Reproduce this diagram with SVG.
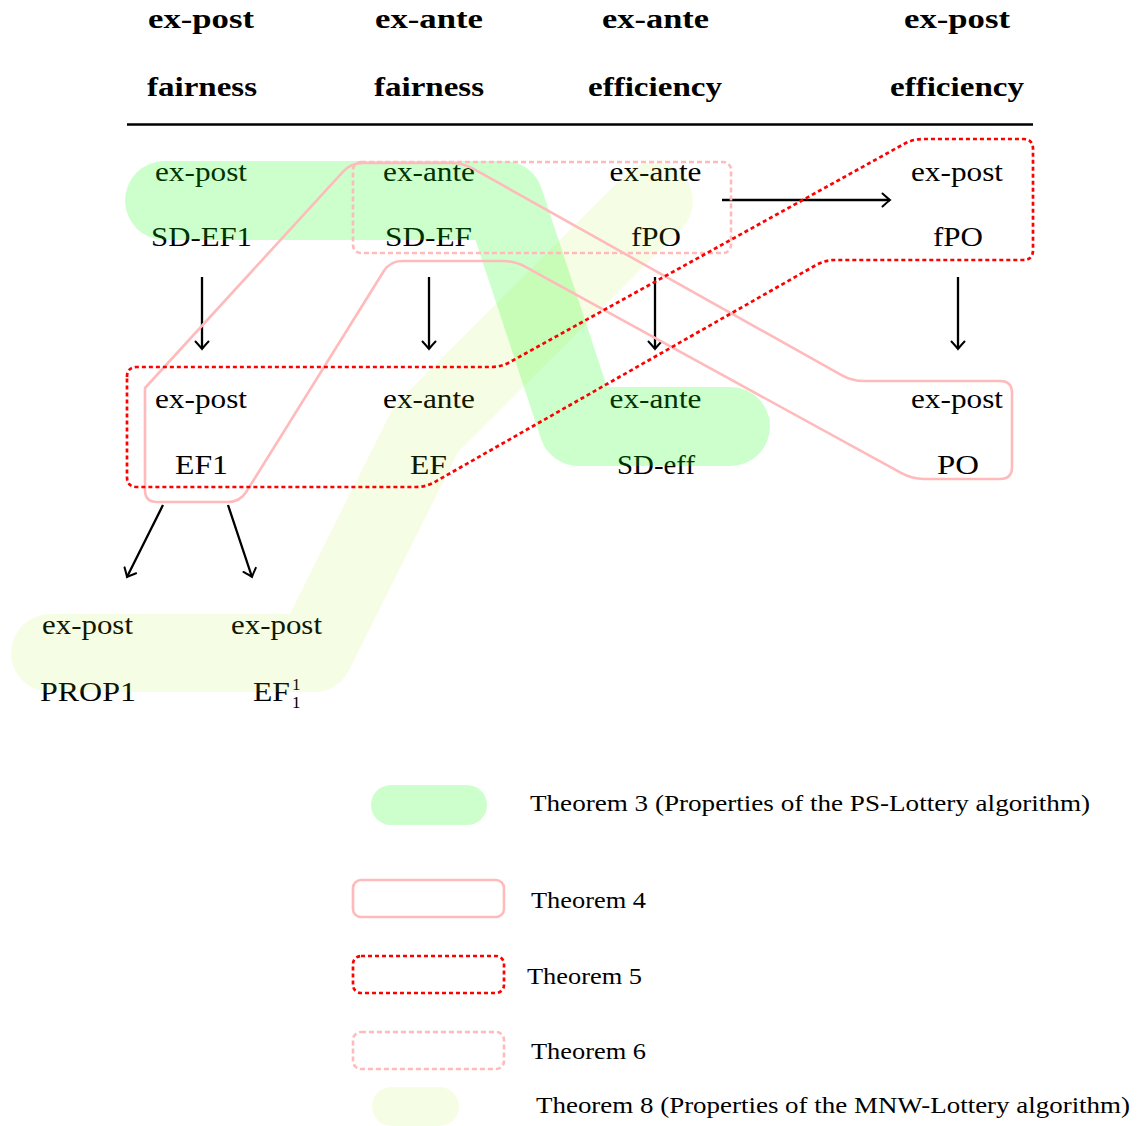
<svg xmlns="http://www.w3.org/2000/svg" width="1137" height="1126" viewBox="0 0 1137 1126">
<defs>
<style>
.hd{font-family:"Liberation Serif",serif;font-weight:bold;font-size:28px;fill:#000;text-anchor:middle}
.lb{font-family:"Liberation Serif",serif;font-size:28px;fill:#000;text-anchor:middle}
.lg{font-family:"Liberation Serif",serif;font-size:23px;fill:#000}
.sm{font-family:"Liberation Serif",serif;font-size:17px;fill:#000}
.edge{stroke:#000;stroke-width:2.3;fill:none;marker-end:url(#arr)}
.t3{fill:none;stroke:#00ff00;stroke-opacity:0.2;stroke-linecap:round;stroke-linejoin:round}
.t8{fill:none;stroke:rgb(170,232,0);stroke-opacity:0.1;stroke-linecap:round;stroke-linejoin:round}
.t4{fill:none;stroke:#ffbbbb;stroke-width:2.6}
.t5{fill:none;stroke:#ff0000;stroke-width:2.7;stroke-dasharray:4 3}
.t6{fill:none;stroke:#ffbbbb;stroke-width:2.6;stroke-dasharray:5 3}
</style>
<marker id="arr" viewBox="-10 -8 12 16" refX="0" refY="0" markerWidth="12" markerHeight="16" orient="auto" markerUnits="userSpaceOnUse">
<path d="M -7.5 -6.5 Q -2 -1.5 0 0 Q -2 1.5 -7.5 6.5" fill="none" stroke="#000" stroke-width="2" stroke-linecap="round"/>
</marker>
</defs>
<rect width="1137" height="1126" fill="#fff"/>

<g id="header">
<text class="hd" x="201" y="28" textLength="106" lengthAdjust="spacingAndGlyphs">ex-post</text>
<text class="hd" x="202" y="96" textLength="110" lengthAdjust="spacingAndGlyphs">fairness</text>
<text class="hd" x="429" y="28" textLength="108" lengthAdjust="spacingAndGlyphs">ex-ante</text>
<text class="hd" x="429" y="96" textLength="110" lengthAdjust="spacingAndGlyphs">fairness</text>
<text class="hd" x="655.5" y="28" textLength="107" lengthAdjust="spacingAndGlyphs">ex-ante</text>
<text class="hd" x="655" y="96" textLength="134" lengthAdjust="spacingAndGlyphs">efficiency</text>
<text class="hd" x="957" y="28" textLength="106" lengthAdjust="spacingAndGlyphs">ex-post</text>
<text class="hd" x="957" y="96" textLength="134" lengthAdjust="spacingAndGlyphs">efficiency</text>
<line x1="127" y1="124.5" x2="1033" y2="124.5" stroke="#000" stroke-width="2.4"/>
</g>

<g id="n-sdef1">
<text class="lb" x="201" y="181" textLength="92" lengthAdjust="spacingAndGlyphs">ex-post</text>
<text class="lb" x="201.5" y="246" textLength="101" lengthAdjust="spacingAndGlyphs">SD-EF1</text>
</g>
<g id="n-sdef">
<text class="lb" x="429" y="181" textLength="92" lengthAdjust="spacingAndGlyphs">ex-ante</text>
<text class="lb" x="428.5" y="246" textLength="87" lengthAdjust="spacingAndGlyphs">SD-EF</text>
</g>
<g id="n-fpo-ante">
<text class="lb" x="655.5" y="181" textLength="92" lengthAdjust="spacingAndGlyphs">ex-ante</text>
<text class="lb" x="656" y="246" textLength="50" lengthAdjust="spacingAndGlyphs">fPO</text>
</g>
<g id="n-fpo-post">
<text class="lb" x="957" y="181" textLength="92" lengthAdjust="spacingAndGlyphs">ex-post</text>
<text class="lb" x="958" y="246" textLength="50" lengthAdjust="spacingAndGlyphs">fPO</text>
</g>
<g id="n-ef1">
<text class="lb" x="201" y="408" textLength="92" lengthAdjust="spacingAndGlyphs">ex-post</text>
<text class="lb" x="201.5" y="474" textLength="53" lengthAdjust="spacingAndGlyphs">EF1</text>
</g>
<g id="n-ef">
<text class="lb" x="429" y="408" textLength="92" lengthAdjust="spacingAndGlyphs">ex-ante</text>
<text class="lb" x="428.5" y="474" textLength="37" lengthAdjust="spacingAndGlyphs">EF</text>
</g>
<g id="n-sdeff">
<text class="lb" x="655.5" y="408" textLength="92" lengthAdjust="spacingAndGlyphs">ex-ante</text>
<text class="lb" x="656" y="474" textLength="78" lengthAdjust="spacingAndGlyphs">SD-eff</text>
</g>
<g id="n-po">
<text class="lb" x="957" y="408" textLength="92" lengthAdjust="spacingAndGlyphs">ex-post</text>
<text class="lb" x="958" y="474" textLength="42" lengthAdjust="spacingAndGlyphs">PO</text>
</g>
<g id="n-prop1">
<text class="lb" x="87.5" y="634" textLength="91" lengthAdjust="spacingAndGlyphs">ex-post</text>
<text class="lb" x="88" y="701" textLength="96" lengthAdjust="spacingAndGlyphs">PROP1</text>
</g>
<g id="n-ef11">
<text class="lb" x="276.5" y="634" textLength="91" lengthAdjust="spacingAndGlyphs">ex-post</text>
<text class="lb" x="271.5" y="701" textLength="37" lengthAdjust="spacingAndGlyphs">EF</text>
<text class="sm" x="292" y="690">1</text>
<text class="sm" x="292" y="708">1</text>
</g>

<g id="connectors">
<line class="edge" x1="202" y1="277" x2="202" y2="349"/>
<line class="edge" x1="429" y1="277" x2="429" y2="349"/>
<line class="edge" x1="655" y1="277" x2="655" y2="349"/>
<line class="edge" x1="958" y1="277" x2="958" y2="349"/>
<line class="edge" x1="722" y1="200" x2="890" y2="200"/>
<line class="edge" x1="163" y1="505" x2="127" y2="577"/>
<line class="edge" x1="228" y1="505" x2="252" y2="577"/>
</g>

<g id="theorem3">
<path class="t3" stroke-width="79" d="M 164.5 200.5 L 504 200.5 L 578.5 426.5 L 730.5 426.5"/>
</g>
<g id="theorem8">
<path class="t8" stroke-width="78" d="M 50 653 L 314 653 L 426 429 L 654 201"/>
</g>
<g id="theorem4">
<path class="t4" d="M 145 388 L 342.9 171.8 Q 351 163 363 163 L 451 163 Q 463 163 473.5 168.9 L 841.5 375.1 Q 852 381 864 381 L 1000 381 Q 1012 381 1012 393 L 1012 467 Q 1012 479 1000 479 L 924 479 Q 912 479 901.5 473.2 L 525.5 266.8 Q 515 261 503 261 L 402 261 Q 390 261 383.7 271.2 L 246.3 491.8 Q 240 502 228 502 L 157 502 Q 145 502 145 490 Z"/>
</g>
<g id="theorem6">
<rect class="t6" x="353" y="162" width="378" height="91" rx="8"/>
</g>
<g id="theorem5">
<path class="t5" d="M 127 377 Q 127 367 137 367 L 491 367 Q 501 367 509.75 362.16 L 904.25 143.84 Q 913 139 923 139 L 1023 139 Q 1033 139 1033 149 L 1033 250 Q 1033 260 1023 260 L 835 260 Q 825 260 816.31 264.94 L 434.69 482.06 Q 426 487 416 487 L 137 487 Q 127 487 127 477 Z"/>
</g>

<g id="legend">
<rect x="371" y="785" width="116" height="40" rx="20" fill="#00ff00" fill-opacity="0.2"/>
<text class="lg" x="530" y="811" textLength="560" lengthAdjust="spacingAndGlyphs">Theorem 3 (Properties of the PS-Lottery algorithm)</text>
<rect class="t4" x="353" y="880" width="151" height="37" rx="8"/>
<text class="lg" x="531" y="908" textLength="115" lengthAdjust="spacingAndGlyphs">Theorem 4</text>
<rect class="t5" x="353" y="956" width="151" height="37" rx="8"/>
<text class="lg" x="527" y="984" textLength="115" lengthAdjust="spacingAndGlyphs">Theorem 5</text>
<rect class="t6" x="353" y="1032" width="151" height="37" rx="8"/>
<text class="lg" x="531" y="1059" textLength="115" lengthAdjust="spacingAndGlyphs">Theorem 6</text>
<rect x="372" y="1087" width="87" height="39" rx="19.5" fill="rgb(170,232,0)" fill-opacity="0.1"/>
<text class="lg" x="536" y="1113" textLength="594" lengthAdjust="spacingAndGlyphs">Theorem 8 (Properties of the MNW-Lottery algorithm)</text>
</g>
</svg>
